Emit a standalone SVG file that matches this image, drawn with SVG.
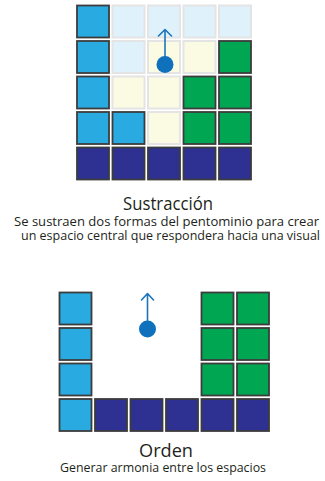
<svg xmlns="http://www.w3.org/2000/svg" width="325" height="481" viewBox="0 0 325 481">
<defs>
<style>
.d{stroke:#3c3c3c;stroke-width:1.8}
.l{stroke:#e4e4e4;stroke-width:2}
.lb{fill:#29abe2}
.gr{fill:#00a651}
.db{fill:#2e3192}
.pb{fill:#dff1fa}
.py{fill:#fbfbe3}
.arr{fill:none;stroke:#1c75bc;stroke-width:1.6;stroke-linecap:round;stroke-linejoin:round}
.dot{fill:#0f71bb}
.t{font-family:"Open Sans","Noto Sans",sans-serif;fill:#231f20}
</style>
</defs>
<rect width="325" height="481" fill="#ffffff"/>

<g id="grid-sustraccion">
<!-- row 0 -->
<rect class="lb d" x="77" y="5.5" width="32" height="32"/>
<rect class="pb l" x="112.5" y="5.5" width="32" height="32"/>
<rect class="pb l" x="148" y="5.5" width="32" height="32"/>
<rect class="pb l" x="183.5" y="5.5" width="32" height="32"/>
<rect class="pb l" x="219" y="5.5" width="32" height="32"/>
<!-- row 1 -->
<rect class="lb d" x="77" y="41" width="32" height="32"/>
<rect class="pb l" x="112.5" y="41" width="32" height="32"/>
<rect class="py l" x="148" y="41" width="32" height="32"/>
<rect class="py l" x="183.5" y="41" width="32" height="32"/>
<rect class="gr d" x="219" y="41" width="32" height="32"/>
<!-- row 2 -->
<rect class="lb d" x="77" y="76.5" width="32" height="32"/>
<rect class="py l" x="112.5" y="76.5" width="32" height="32"/>
<rect class="py l" x="148" y="76.5" width="32" height="32"/>
<rect class="gr d" x="183.5" y="76.5" width="32" height="32"/>
<rect class="gr d" x="219" y="76.5" width="32" height="32"/>
<!-- row 3 -->
<rect class="lb d" x="77" y="112" width="32" height="32"/>
<rect class="lb d" x="112.5" y="112" width="32" height="32"/>
<rect class="py l" x="148" y="112" width="32" height="32"/>
<rect class="gr d" x="183.5" y="112" width="32" height="32"/>
<rect class="gr d" x="219" y="112" width="32" height="32"/>
<!-- row 4 -->
<rect class="db d" x="77" y="147.5" width="32" height="32"/>
<rect class="db d" x="112.5" y="147.5" width="32" height="32"/>
<rect class="db d" x="148" y="147.5" width="32" height="32"/>
<rect class="db d" x="183.5" y="147.5" width="32" height="32"/>
<rect class="db d" x="219" y="147.5" width="32" height="32"/>
</g>

<g id="grid-orden">
<rect class="lb d" x="59.5" y="292.5" width="32" height="32"/>
<rect class="lb d" x="59.5" y="328" width="32" height="32"/>
<rect class="lb d" x="59.5" y="363.5" width="32" height="32"/>
<rect class="lb d" x="59.5" y="399" width="32" height="32"/>
<rect class="db d" x="95" y="399" width="32" height="32"/>
<rect class="db d" x="130.5" y="399" width="32" height="32"/>
<rect class="db d" x="166" y="399" width="32" height="32"/>
<rect class="db d" x="201.5" y="399" width="32" height="32"/>
<rect class="db d" x="237" y="399" width="32" height="32"/>
<rect class="gr d" x="201.5" y="292.5" width="32" height="32"/>
<rect class="gr d" x="237" y="292.5" width="32" height="32"/>
<rect class="gr d" x="201.5" y="328" width="32" height="32"/>
<rect class="gr d" x="237" y="328" width="32" height="32"/>
<rect class="gr d" x="201.5" y="363.5" width="32" height="32"/>
<rect class="gr d" x="237" y="363.5" width="32" height="32"/>
</g>

<g id="connectors">
<path class="arr" d="M165 57 V30 M158.5 36 L165 29.5 L171.5 36"/>
<circle class="dot" cx="165" cy="64.5" r="8.5"/>
<path class="arr" d="M147.5 321 V294 M141.5 300 L147.5 293.5 L153.5 300"/>
<circle class="dot" cx="147.5" cy="329" r="8.5"/>
</g>

<g id="label-sustraccion">
<text class="t" x="123" y="209.5" font-size="17.5" textLength="90" lengthAdjust="spacingAndGlyphs">Sustracción</text>
<text class="t" x="14" y="225.5" font-size="12.5" textLength="305" lengthAdjust="spacingAndGlyphs">Se sustraen dos formas del pentominio para crear</text>
<text class="t" x="21" y="240" font-size="12.5" textLength="299" lengthAdjust="spacingAndGlyphs">un espacio central que respondera hacia una visual</text>
</g>

<g id="label-orden">
<text class="t" x="139" y="456.5" font-size="17.5" textLength="54" lengthAdjust="spacingAndGlyphs">Orden</text>
<text class="t" x="60" y="471.5" font-size="12.5" textLength="206" lengthAdjust="spacingAndGlyphs">Generar armonia entre los espacios</text>
</g>
</svg>
